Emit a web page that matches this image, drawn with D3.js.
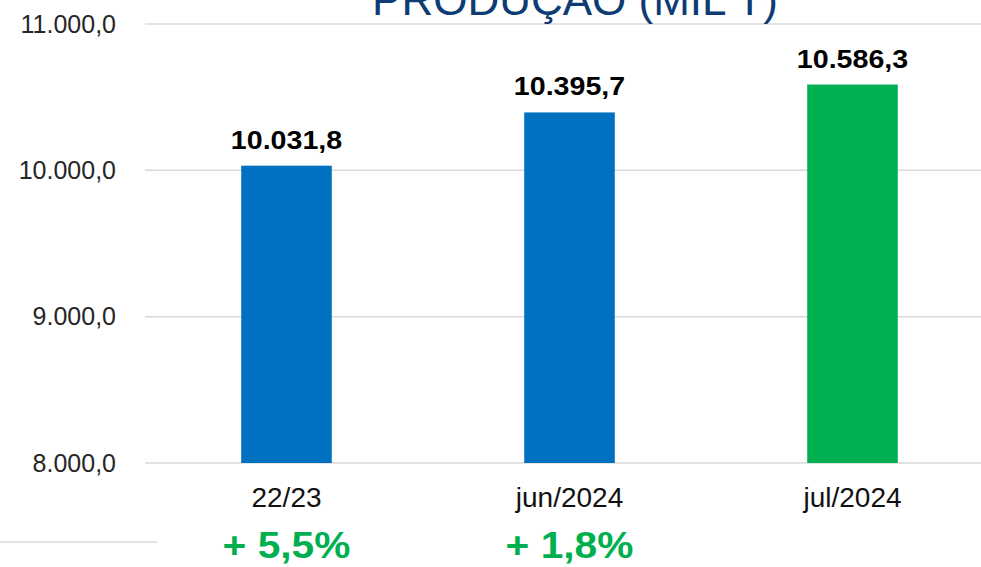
<!DOCTYPE html>
<html>
<head>
<meta charset="utf-8">
<script src="https://cdn.jsdelivr.net/npm/d3@7.9.0/dist/d3.min.js"></script>
<style>
  body { margin: 0; background: #fff; }
  svg { display: block; font-family: "Liberation Sans", Arial, sans-serif; }
</style>
</head>
<body>
<svg id="chart" width="981" height="567"></svg>
<script>
// chart data
const categories = ['22/23', 'jun/2024', 'jul/2024'];
const values = [10031.8, 10395.7, 10586.3];
const changes = ['+ 5,5%', '+ 1,8%', ''];
const yTicks = [8000, 9000, 10000, 11000];
const title = 'PRODUÇÃO (MIL T)';

const width = 981, height = 567;
const svg = d3.select('#chart');

// pt-BR style number format: 10.031,8
const fmt = v => d3.format(',.1f')(v).replace(/,/g, '#').replace('.', ',').replace(/#/g, '.');

// bold labels in the original look slightly wider than the plain font
function stretch(sel, k) {
    sel.each(function () {
        let w = this.getComputedTextLength();
        if (w > 0) {
            d3.select(this)
                .attr('textLength', w * k)
                .attr('lengthAdjust', 'spacingAndGlyphs');
        }
    });
}

let x = d3.scaleBand()
    .domain(categories)
    .range([145, 994])
    .paddingInner(0.68)
    .paddingOuter(0.34);

let y = d3.scaleLinear()
    .domain([8000, 11000])
    .range([463, 24]);

// gridlines
svg.append('g')
    .selectAll('line')
    .data(yTicks)
    .enter()
    .append('line')
    .attr('x1', 145)
    .attr('x2', width)
    .attr('y1', d => y(d))
    .attr('y2', d => y(d))
    .attr('stroke', '#d9d9d9')
    .attr('stroke-width', 1.5);

// y axis labels
svg.append('g')
    .selectAll('text')
    .data(yTicks)
    .enter()
    .append('text')
    .attr('x', 116)
    .attr('y', d => y(d))
    .attr('dy', '0.35em')
    .attr('text-anchor', 'end')
    .attr('font-size', 25)
    .attr('fill', '#262626')
    .text(d => fmt(d));

// title (clipped by top edge in the original)
svg.append('text')
    .attr('x', 575)
    .attr('y', 15)
    .attr('text-anchor', 'middle')
    .attr('font-size', 44)
    .attr('fill', '#0d3c74')
    .text(title);

// bars
svg.append('g')
    .selectAll('rect')
    .data(values)
    .enter()
    .append('rect')
    .attr('x', (d, i) => x(categories[i]))
    .attr('width', x.bandwidth())
    .attr('y', d => y(d))
    .attr('height', d => y(8000) - y(d))
    .attr('fill', (d, i) => i === values.length - 1 ? '#00b050' : '#0070c0');

// value labels
svg.append('g')
    .selectAll('text')
    .data(values)
    .enter()
    .append('text')
    .attr('x', (d, i) => x(categories[i]) + x.bandwidth() / 2)
    .attr('y', d => y(d) - 17)
    .attr('text-anchor', 'middle')
    .attr('font-size', 26)
    .attr('font-weight', 'bold')
    .attr('fill', '#000')
    .text(d => fmt(d))
    .call(stretch, 1.1);

// category labels
svg.append('g')
    .selectAll('text')
    .data(categories)
    .enter()
    .append('text')
    .attr('x', d => x(d) + x.bandwidth() / 2)
    .attr('y', 507)
    .attr('text-anchor', 'middle')
    .attr('font-size', 28)
    .attr('fill', '#111')
    .text(d => d);

// growth labels
svg.append('g')
    .selectAll('text')
    .data(changes)
    .enter()
    .append('text')
    .attr('x', (d, i) => x(categories[i]) + x.bandwidth() / 2)
    .attr('y', 558)
    .attr('text-anchor', 'middle')
    .attr('font-size', 37)
    .attr('font-weight', 'bold')
    .attr('fill', '#00b050')
    .text(d => d)
    .call(stretch, 1.1);

// small separator line at bottom left
svg.append('line')
    .attr('x1', 0)
    .attr('x2', 157)
    .attr('y1', 542)
    .attr('y2', 542)
    .attr('stroke', '#d9d9d9')
    .attr('stroke-width', 1.5);
</script>
</body>
</html>
